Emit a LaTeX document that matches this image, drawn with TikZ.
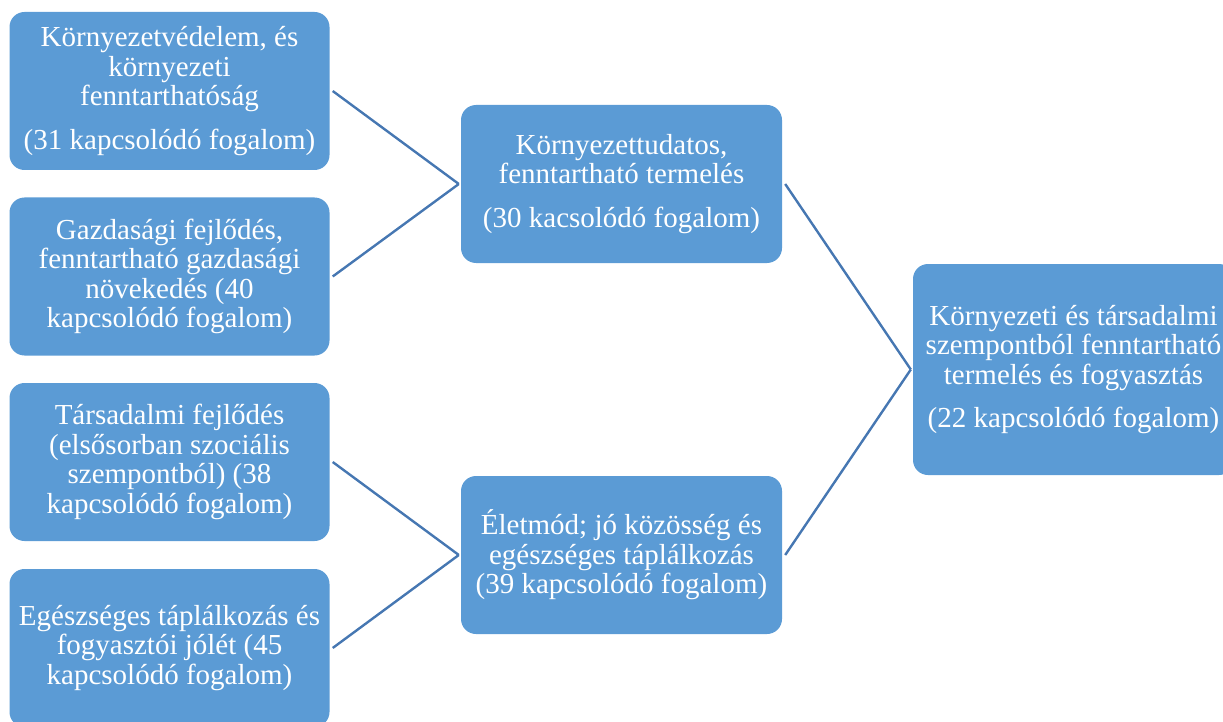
\documentclass[tikz,border=0pt]{standalone}
\usepackage{fontspec}
\setmainfont{Liberation Serif}
\definecolor{boxblue}{HTML}{5B9BD5}
\definecolor{lineblue}{HTML}{4677B2}
\tikzset{
  bluebox/.style={fill=boxblue, rounded corners=15pt, inner sep=0pt, text=white,
    align=center, font=\fontsize{29}{29.5}\selectfont},
  conn/.style={draw=lineblue, line width=2.4pt}
}
\begin{document}
\begin{tikzpicture}[x=1pt,y=-1pt]
\useasboundingbox (0,0) rectangle (1223,722);
\begin{scope}
\clip (0,0) rectangle (1223,722);
\node[bluebox, minimum width=320pt, minimum height=158pt] (b1) at (169.5,91)
  {Környezetvédelem, és\\környezeti\\fenntarthatóság\\[14pt](31 kapcsolódó fogalom)};
\node[bluebox, minimum width=320pt, minimum height=158pt] (b2) at (169.5,276.5)
  {Gazdasági fejlődés,\\fenntartható gazdasági\\növekedés (40\\kapcsolódó fogalom)};
\node[bluebox, minimum width=320pt, minimum height=158pt] (b3) at (169.5,462)
  {Társadalmi fejlődés\\(elsősorban szociális\\szempontból) (38\\kapcsolódó fogalom)};
\node[bluebox, minimum width=320pt, minimum height=158pt] (b4) at (169.5,648)
  {Egészséges táplálkozás és\\fogyasztói jólét (45\\kapcsolódó fogalom)};
\node[bluebox, minimum width=321pt, minimum height=158pt] (mA) at (621.5,184)
  {Környezettudatos,\\fenntartható termelés\\[14pt](30 kacsolódó fogalom)};
\node[bluebox, minimum width=321pt, minimum height=158pt] (mB) at (621.5,555)
  {Életmód; jó közösség és\\egészséges táplálkozás\\(39 kapcsolódó fogalom)};
\node[bluebox, minimum width=321pt, minimum height=211pt] (r) at (1073.5,369.5)
  {Környezeti és társadalmi\\szempontból fenntartható\\termelés és fogyasztás\\[14pt](22 kapcsolódó fogalom)};
\end{scope}
\draw[conn] ([xshift=3pt]b1.east) -- ([xshift=-2pt]mA.west);
\draw[conn] ([xshift=3pt]b2.east) -- ([xshift=-2pt]mA.west);
\draw[conn] ([xshift=3pt]b3.east) -- ([xshift=-2pt]mB.west);
\draw[conn] ([xshift=3pt]b4.east) -- ([xshift=-2pt]mB.west);
\draw[conn] ([xshift=3pt]mA.east) -- ([xshift=-2pt]r.west);
\draw[conn] ([xshift=3pt]mB.east) -- ([xshift=-2pt]r.west);
\end{tikzpicture}
\end{document}
